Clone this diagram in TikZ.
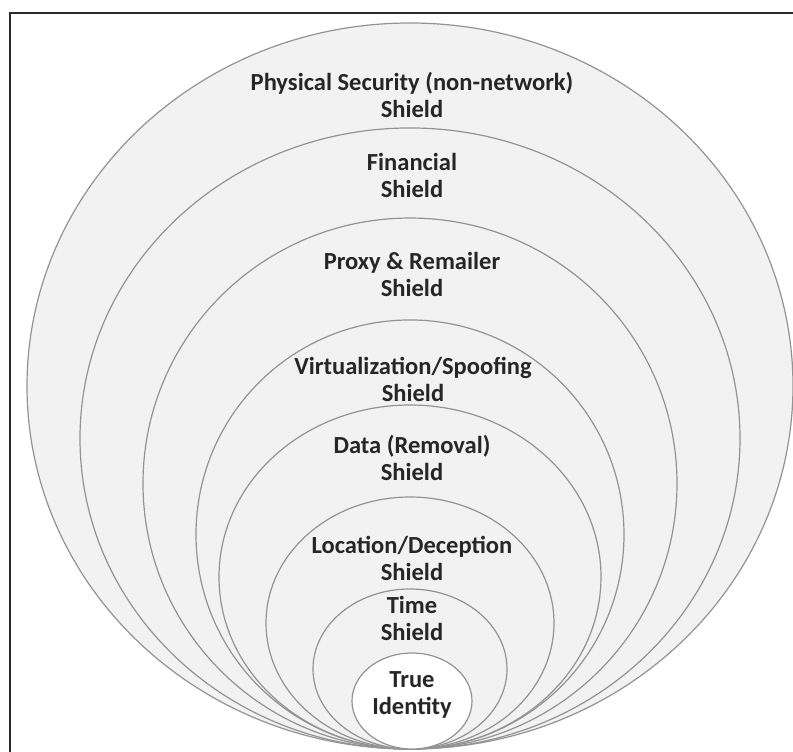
\documentclass[tikz,border=0pt]{standalone}
\usepackage{fontspec}
\setmainfont{Carlito}
\definecolor{shieldfill}{HTML}{F2F2F2}
\definecolor{shieldline}{HTML}{939393}
\definecolor{labeltext}{HTML}{262626}
\definecolor{framecol}{HTML}{2A2A2A}
\begin{document}
\begin{tikzpicture}[x=0.75pt,y=-0.75pt,
  shield/.style={draw=shieldline, line width=0.9pt, fill=shieldfill},
  core/.style={draw=shieldline, line width=0.9pt, fill=white},
  lbl/.style={font=\bfseries\fontsize{18.4}{20.25}\selectfont, align=center,
              text=labeltext, inner sep=0pt}]
\useasboundingbox (0,0) rectangle (793,752);
\fill[white] (0,0) rectangle (793,752);
% outer frame (left and top edges)
\draw[line width=1.8pt, framecol] (10,760) -- (10,13) -- (800,13);

% nested shields, all touching at the bottom point
\draw[shield] (410,386)   ellipse [x radius=287.25pt, y radius=272.25pt];
\draw[shield] (410,438.5) ellipse [x radius=247.5pt,  y radius=232.9pt];
\draw[shield] (410,483.5) ellipse [x radius=200.25pt, y radius=199.1pt];
\draw[shield] (410,534.5) ellipse [x radius=160.5pt,  y radius=160.9pt];
\draw[shield] (410,577)   ellipse [x radius=143.25pt, y radius=129pt];
\draw[shield] (410,623)   ellipse [x radius=108pt,    y radius=94.5pt];
\draw[shield] (410,669)   ellipse [x radius=72.75pt,  y radius=60pt];
\draw[core]   (412,701)   ellipse [x radius=45pt,     y radius=36pt];

% labels
\node[lbl] (physical) at (412,94.5) {Physical Security (non-network)\\Shield};
\node[lbl] (financial) at (412,175.5) {Financial\\Shield};
\node[lbl] (proxy) at (412,274) {Proxy \& Remailer\\Shield};
\node[lbl] (virtual) at (413,379) {Virtualization/Spoofing\\Shield};
\node[lbl] (data) at (412,457.5) {Data (Removal)\\Shield};
\node[lbl] (location) at (412,558.5) {Location/Deception\\Shield};
\node[lbl] (time) at (412,618.5) {Time\\Shield};
\node[lbl] (identity) at (412,695) {True\\Identity};
\end{tikzpicture}
\end{document}
